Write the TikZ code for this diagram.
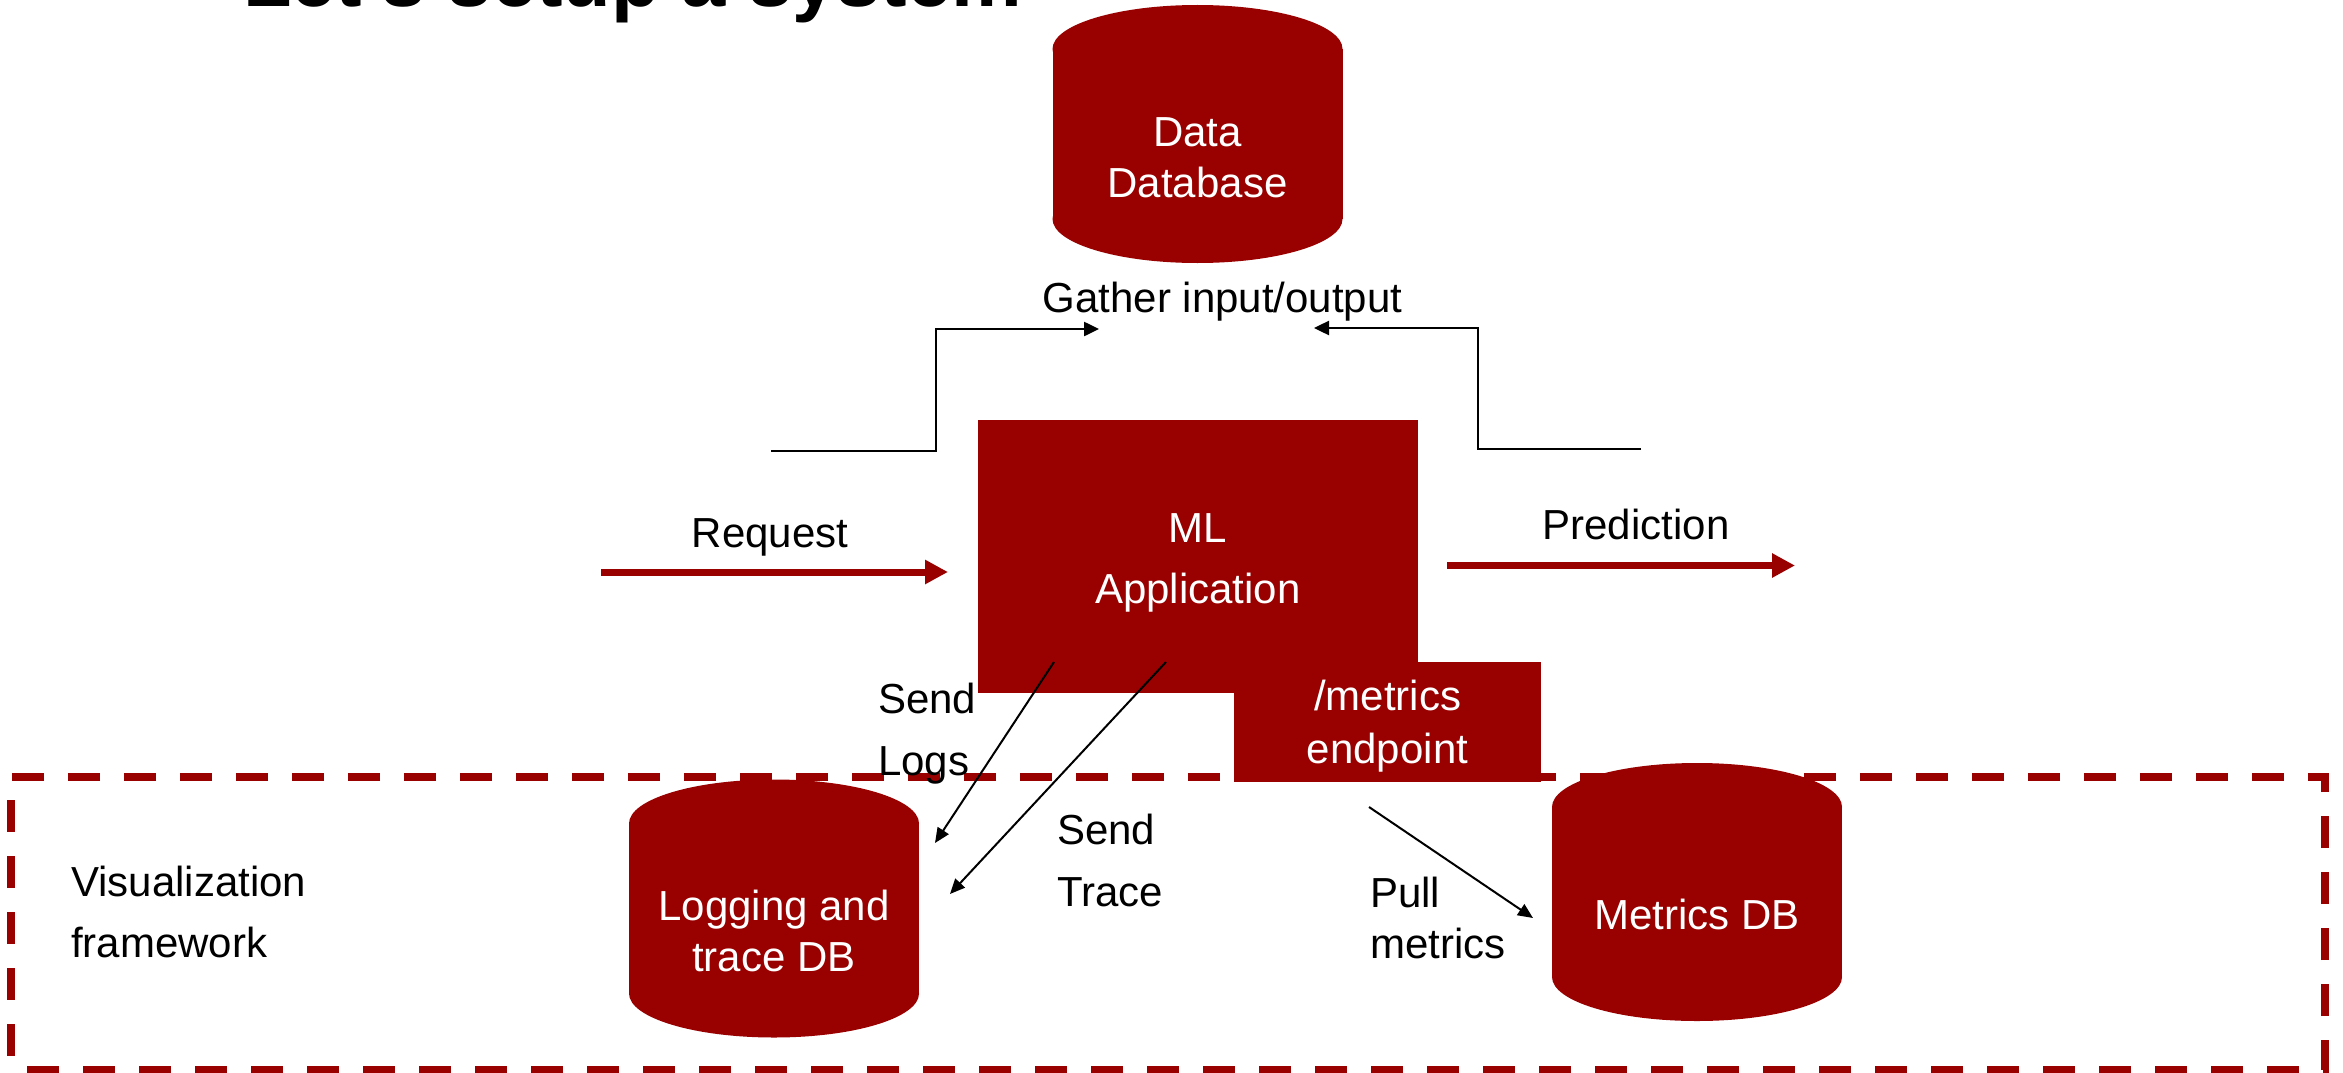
\documentclass[tikz,border=0pt]{standalone}
\usepackage{fontspec}
\setmainfont{Liberation Sans}
\usetikzlibrary{arrows.meta}
\definecolor{dbred}{HTML}{990000}

\tikzset{
  blk/.style={fill=dbred, draw=none, inner sep=0pt, outer sep=0pt},
  whitetext/.style={font=\fontsize{42}{51}\selectfont, align=center, inner sep=0pt, text=white},
  lbl/.style={font=\fontsize{42}{62}\selectfont, align=left, inner sep=0pt, text=black},
  flow/.style={draw=dbred, line width=7pt, -{Triangle[length=23pt, width=23pt]}},
  thinarrow/.style={draw=black, line width=2pt, -{Triangle[length=15pt, width=13pt]}},
  gather/.style={draw=black, line width=2.5pt, miter limit=10, -{Triangle[length=15pt, width=14pt]}},
  frame/.style={draw=dbred, line width=7.5pt, dash pattern=on 32pt off 24pt, dash phase=-16pt,
    inner sep=0pt, outer sep=0pt},
}

\begin{document}
\begin{tikzpicture}[x=1pt, y=-1pt]
  \useasboundingbox (0,0) rectangle (2343,1073);
  \clip (0,0) rectangle (2343,1073);

  % title, partly above the page edge
  \node[anchor=base west, inner sep=0pt, font=\bfseries\fontsize{79.5}{90}\selectfont] (title)
    at (243,7) {Let's setup a system};

  % visualization frame
  \node[frame, minimum width=2314pt, minimum height=293pt, anchor=north west] (viz) at (11,777) {};
  % (multi-line nodes: the base anchor sits on the last line)
  \node[lbl, font=\fontsize{42}{61}\selectfont, anchor=base west] (viztxt) at (71,957) {Visualization\\framework};

  % databases: body plus elliptic caps
  \node[blk, minimum width=290pt, minimum height=170pt] (datadb) at (1197.5,134) {};
  \fill[dbred] (datadb.north) ellipse [x radius=145pt, y radius=44pt];
  \fill[dbred] (datadb.south) ellipse [x radius=145pt, y radius=44pt];

  \node[blk, minimum width=290pt, minimum height=170pt] (logdb) at (774,908.5) {};
  \fill[dbred] (logdb.north) ellipse [x radius=145pt, y radius=44pt];
  \fill[dbred] (logdb.south) ellipse [x radius=145pt, y radius=44pt];

  \node[blk, minimum width=290pt, minimum height=170pt] (metdb) at (1697,892) {};
  \fill[dbred] (metdb.north) ellipse [x radius=145pt, y radius=44pt];
  \fill[dbred] (metdb.south) ellipse [x radius=145pt, y radius=44pt];

  % application and its metrics endpoint
  \node[blk, minimum width=440pt, minimum height=273pt] (app) at (1198,556.5) {};
  \node[blk, minimum width=307pt, minimum height=120pt] (endp) at (1387.5,722) {};

  % white captions
  \node[whitetext, anchor=base] (datatxt) at (1197.5,197) {Data\\Database};
  \node[whitetext, anchor=base] (logtxt) at (774,971) {Logging and\\trace DB};
  \node[whitetext, anchor=base] (mettxt) at (1697,929) {Metrics DB};
  \node[whitetext, font=\fontsize{42}{61}\selectfont, anchor=base] (apptxt) at (1198,603) {ML\\Application};
  \node[whitetext, font=\fontsize{42}{53}\selectfont, anchor=base] (endptxt) at (1387.5,763) {/metrics\\endpoint};

  % request / prediction flow
  \coordinate (reqA) at (601,572);
  \coordinate (reqB) at (948,572);
  \coordinate (preA) at (1447,565.5);
  \coordinate (preB) at (1795,565.5);
  \draw[flow] (reqA) -- (reqB);
  \draw[flow] (preA) -- (preB);
  \node[lbl, anchor=base] (reqtxt) at (770,547) {Request};
  \node[lbl, anchor=base] (pretxt) at (1636,539) {Prediction};

  % gathering input and output
  \coordinate (gl0) at (771,451);
  \coordinate (gl1) at (936,329);
  \coordinate (gl2) at (1099,329);
  \coordinate (gr0) at (1641,449);
  \coordinate (gr1) at (1478,328);
  \coordinate (gr2) at (1314,328);
  \draw[gather] (gl0) -| (gl1) -- (gl2);
  \draw[gather] (gr0) -| (gr1) -- (gr2);
  \node[lbl, anchor=base] (gathtxt) at (1222.5,312) {Gather input/output};

  % logs, traces and metrics
  \coordinate (logA) at (1054,662);
  \coordinate (logB) at (935,843);
  \coordinate (trA) at (1166,662);
  \coordinate (trB) at (950,894);
  \coordinate (pullA) at (1369,807);
  \coordinate (pullB) at (1533,918);
  \draw[thinarrow] (logA) -- (logB);
  \draw[thinarrow] (trA) -- (trB);
  \draw[thinarrow] (pullA) -- (pullB);
  \node[lbl, anchor=base west] (logtxtl) at (878,775) {Send\\Logs};
  \node[lbl, anchor=base west] (trtxt) at (1057,906) {Send\\Trace};
  \node[lbl, font=\fontsize{42}{51}\selectfont, anchor=base west] (pulltxt) at (1370,958) {Pull\\metrics};
\end{tikzpicture}
\end{document}
